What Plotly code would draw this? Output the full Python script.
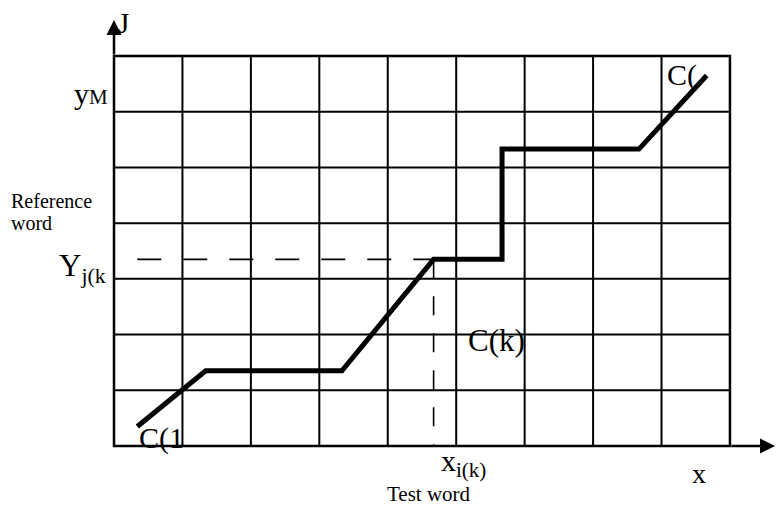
import plotly.graph_objects as go

# ---- data ----
n_cols = 9          # test word frames (columns of the grid)
n_rows = 7          # reference word frames (rows of the grid)
path_x = [0.34, 1.34, 3.33, 4.67, 5.67, 5.67, 7.67, 8.66]
path_y = [0.35, 1.35, 1.35, 3.35, 3.35, 5.33, 5.33, 6.65]
k_index = 3         # the point C(k) on the warping path

# ---- layout constants (pixel mapping; page body has an 8px offset) ----
W, H = 783, 515
OFF = 8
PX_X0, CELL_W = 114, 68.44
PX_Y0, CELL_H = 446, 55.71
x_range = [(OFF - PX_X0) / CELL_W, (W + OFF - PX_X0) / CELL_W]
y_range = [(PX_Y0 - (H + OFF)) / CELL_H, (PX_Y0 - OFF) / CELL_H]

FONT = "Liberation Serif, Times New Roman, serif"
BLACK = "#000000"

fig = go.Figure()

shapes = []
# inner grid lines
for i in range(1, n_cols):
    shapes.append(dict(type="line", xref="x", yref="y", x0=i, x1=i, y0=0, y1=n_rows,
                       line=dict(color=BLACK, width=2)))
for j in range(1, n_rows):
    shapes.append(dict(type="line", xref="x", yref="y", x0=0, x1=n_cols, y0=j, y1=j,
                       line=dict(color=BLACK, width=2)))
# outer frame
shapes.append(dict(type="rect", xref="x", yref="y", x0=0, x1=n_cols, y0=0, y1=n_rows,
                   line=dict(color=BLACK, width=2.5)))

# dashed projection lines from C(k)
kx, ky = path_x[k_index], path_y[k_index]
fig.add_trace(go.Scatter(x=[path_x[0], kx], y=[ky, ky], mode="lines",
                         line=dict(color=BLACK, width=1.6, dash="24px,22px"),
                         hoverinfo="skip"))
fig.add_trace(go.Scatter(x=[kx, kx], y=[ky, 0], mode="lines",
                         line=dict(color=BLACK, width=1.6, dash="19px,18px"),
                         hoverinfo="skip"))

# warping path
fig.add_trace(go.Scatter(x=path_x, y=path_y, mode="lines",
                         line=dict(color=BLACK, width=5), hoverinfo="skip"))

y_arrow_top = (PX_Y0 - 20) / CELL_H
x_arrow_end = (775 - PX_X0) / CELL_W

annotations = [
    # axis arrows
    dict(x=0, y=y_arrow_top, ax=0, ay=n_rows, xref="x", yref="y", axref="x", ayref="y",
         text="", showarrow=True, arrowhead=2, arrowsize=1.2, arrowwidth=2.5,
         arrowcolor=BLACK, standoff=0, startstandoff=0),
    dict(x=x_arrow_end, y=0, ax=n_cols, ay=0, xref="x", yref="y", axref="x", ayref="y",
         text="", showarrow=True, arrowhead=2, arrowsize=1.2, arrowwidth=2.5,
         arrowcolor=BLACK, standoff=0, startstandoff=0),
]

def label(text, x, y, size, xanchor="left"):
    annotations.append(dict(x=x, y=y, xref="x", yref="y", text=text, showarrow=False,
                            xanchor=xanchor, yanchor="middle",
                            font=dict(family=FONT, size=size, color=BLACK)))

label("J", 0.03, 7.59, 29)
label("y<span style='font-size:21px'>M</span>", -0.06, 6.32, 30, xanchor="right")
label("Reference", -1.54, 4.4, 20)
label("word", -1.54, 4.0, 20)
label("Y<sub>j(k</sub>", -0.09, 3.2, 31, xanchor="right")
label("C(k)", 5.15, 1.9, 31)
label("C(1", 0.33, 0.14, 30)
label("C(", 8.05, 6.66, 30)
label("x<sub>i(k)</sub>", 4.75, -0.3, 30)
label("x", 8.42, -0.49, 28)
label("Test word", 3.96, -0.86, 21)

fig.update_layout(
    width=W, height=H,
    margin=dict(l=0, r=0, t=0, b=0),
    paper_bgcolor="white", plot_bgcolor="white",
    showlegend=False,
    xaxis=dict(range=x_range, visible=False, fixedrange=True),
    yaxis=dict(range=y_range, visible=False, fixedrange=True),
    shapes=shapes,
    annotations=annotations,
)

fig.write_html("out.html")
